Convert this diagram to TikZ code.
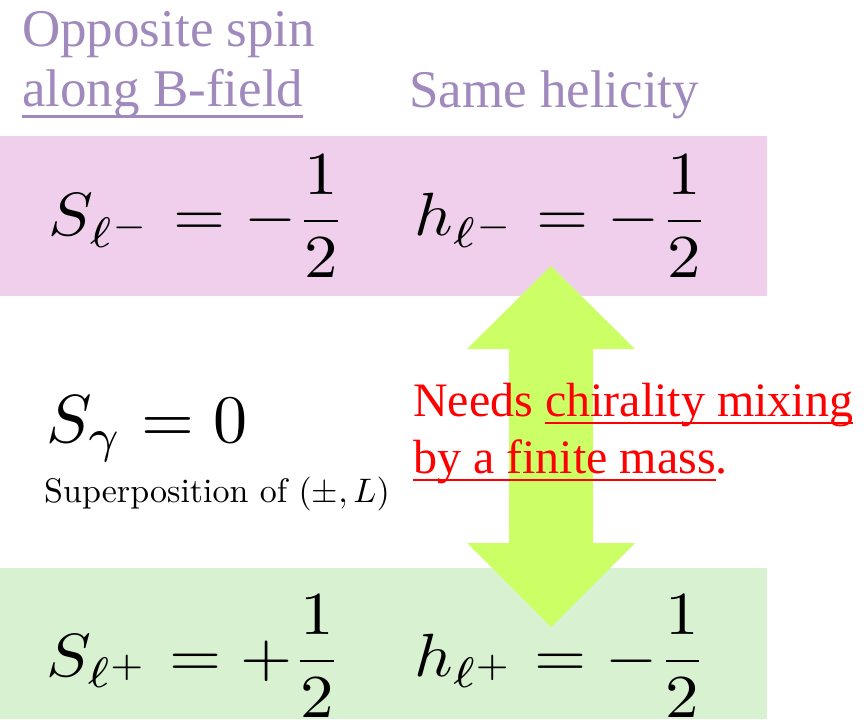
\documentclass[tikz,border=0pt]{standalone}
\usepackage{graphicx}
\usepackage{fontspec}
\newfontfamily\slidefont[Extension=.ttf, UprightFont=*-Regular]{LiberationSerif}
\usetikzlibrary{positioning}

\definecolor{bandpink}{RGB}{240,207,237}
\definecolor{bandgreen}{RGB}{216,241,208}
\definecolor{arrowlime}{RGB}{204,255,102}
\definecolor{notepurple}{RGB}{160,137,189}

% underline with a fixed drop below the baseline
\newsavebox{\ulbox}
\newcommand{\ulbar}[2]{\sbox{\ulbox}{#2}\rlap{\rule[#1]{\wd\ulbox}{0.05em}}\usebox{\ulbox}}
% big formulas, slightly stretched sideways
\newcommand{\bigeq}[1]{\scalebox{6.7}[6.1]{$\displaystyle #1$}}

\begin{document}
\begin{tikzpicture}[
    x=1pt, y=-1pt,
    purplenote/.style={
        anchor=base west, inner sep=0pt,
        text=notepurple,
        font=\slidefont\fontsize{53}{59}\selectfont
    },
    rednote/.style={
        anchor=base west, inner sep=0pt,
        text=red,
        font=\slidefont\fontsize{48}{57}\selectfont
    },
    bigmath/.style={anchor=base west, inner sep=0pt},
    smalltext/.style={anchor=base west, inner sep=0pt}
]
    \useasboundingbox (0,0) rectangle (866,719);

    % Bands for the two leptons
    \fill[bandpink] (0,136) rectangle (767,296);
    \fill[bandgreen] (0,568) rectangle (767,719);

    % Double block arrow
    \fill[arrowlime] (551,266) -- (635,349) -- (593,349) -- (593,543)
        -- (635,543) -- (551,627) -- (467,543) -- (509,543)
        -- (509,349) -- (467,349) -- cycle;

    % Headings
    \node[purplenote] (opp) at (22,47) {Opposite spin};
    \node[purplenote] (field) at (22,107) {\ulbar{-0.21em}{along B-field}};
    \node[purplenote] (same) at (409,108) {Same helicity};

    % Lepton minus
    \node[bigmath] (spinminus) at (48,236) {\bigeq{S_{\ell^-} = -\frac{1}{2}}};
    \node[bigmath] (helminus) at (414,236) {\bigeq{h_{\ell^-} = -\frac{1}{2}}};

    % Photon
    \node[bigmath] (photon) at (46,442) {\scalebox{6.8}{$S_\gamma = 0$}};
    \node[smalltext] (superpos) at (44,502) {\scalebox{3.4}{Superposition of $(\pm, L)$}};

    % Lepton plus
    \node[bigmath] (spinplus) at (46,676) {\bigeq{S_{\ell^+} = +\frac{1}{2}}};
    \node[bigmath] (helplus) at (414,676) {\bigeq{h_{\ell^+} = -\frac{1}{2}}};

    % Note on the arrow
    \node[rednote] (needs) at (413,416) {Needs \ulbar{-0.17em}{chirality mixing}};
    \node[rednote] (mass) at (413,473) {\ulbar{-0.17em}{by a finite mass}.};

\end{tikzpicture}
\end{document}
